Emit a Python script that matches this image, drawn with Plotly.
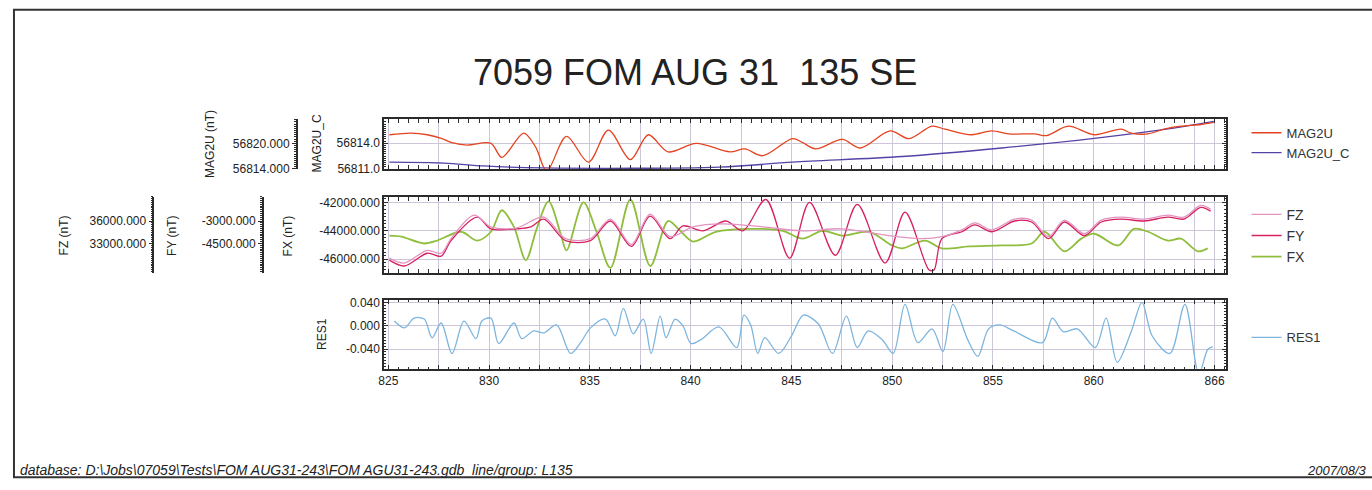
import plotly.graph_objects as go

W, H = 1372, 490

# ---------------- DATA ----------------
# Panel 1 : MAG2U (red) and MAG2U_C (blue)
mag2u_x = [825.05, 826.14, 826.93, 827.67, 828.11, 828.90, 830.09, 830.63, 831.72, 832.31,
           832.86, 833.84, 834.93, 835.92, 837.01, 837.90, 838.88, 840.27, 841.95, 842.69,
           843.58, 845.06, 845.55, 846.20, 847.53, 848.42, 849.90, 850.84, 851.98, 852.62,
           853.95, 854.94, 855.78, 857.07, 857.66, 858.74, 860.03, 861.36, 861.86, 862.70,
           863.49, 864.33, 865.32, 865.96]
mag2u_y = [56822.0, 56822.4, 56822.0, 56821.1, 56820.2, 56819.6, 56820.0, 56816.7, 56822.4, 56819.1,
           56813.5, 56821.6, 56815.6, 56823.1, 56816.2, 56822.0, 56818.0, 56820.0, 56818.0, 56818.7,
           56817.1, 56821.1, 56820.2, 56818.7, 56820.9, 56818.9, 56822.9, 56821.1, 56824.0, 56823.3,
           56822.0, 56822.9, 56822.2, 56822.2, 56821.8, 56824.0, 56822.0, 56823.3, 56822.4, 56822.2,
           56823.3, 56824.0, 56824.4, 56824.9]

mag2uc_x = [825.05, 827.77, 829.74, 832.70, 841.45, 845.06, 850.49, 855.43, 860.03, 863.69, 865.96]
mag2uc_y = [56811.78, 56811.67, 56811.33, 56811.10, 56811.20, 56811.78, 56812.44, 56813.44,
            56814.56, 56815.67, 56816.56]

# Panel 2 : FZ, FY, FX
fz_x = [825.05, 825.79, 826.93, 827.62, 828.11, 829.25, 830.09, 831.37, 832.71, 833.79,
        835.03, 836.02, 837.06, 837.99, 838.98, 840.12, 841.60, 843.58, 845.55, 847.53,
        849.50, 851.48, 852.47, 853.46, 854.10, 854.94, 856.08, 856.92, 857.76, 858.55,
        859.54, 860.38, 861.36, 862.50, 863.69, 864.48, 865.32, 865.81]
fz_y = [31043, 30391, 32087, 31696, 33652, 36783, 35217, 35087, 36522, 33652,
        33652, 36261, 32870, 36913, 33913, 35217, 35609, 35217, 34696, 34957,
        34174, 33652, 33913, 34826, 35739, 34826, 36261, 36130, 33913, 36130,
        34304, 36130, 36522, 36261, 36783, 36522, 38087, 37565]

fy_x = [825.05, 825.79, 826.93, 827.62, 828.11, 829.40, 830.09, 831.37, 832.07, 832.71,
        833.79, 835.03, 836.02, 837.06, 837.99, 838.98, 839.62, 840.61, 841.75, 842.59,
        843.73, 844.91, 845.90, 847.18, 848.27, 849.65, 850.64, 851.83, 852.08, 852.47,
        853.46, 854.10, 854.94, 856.08, 856.92, 857.76, 858.55, 859.54, 860.38, 861.36,
        862.50, 863.69, 864.48, 865.32, 865.81]
fy_y = [-5609, -6000, -5152, -5348, -4304, -2739, -3522, -3522, -3391, -2870,
        -4304, -4304, -3000, -4696, -2674, -4174, -3326, -3652, -3000, -3652,
        -1565, -5478, -1761, -5283, -1891, -5804, -2413, -6261, -6261, -4174,
        -3717, -3261, -3717, -3000, -3065, -4174, -3065, -3978, -3065, -2870,
        -3000, -2739, -2870, -2087, -2348]

fx_x = [825.05, 825.64, 826.78, 827.42, 828.61, 829.40, 830.09, 830.63, 831.23, 831.82,
        832.36, 832.95, 833.55, 833.84, 834.68, 835.33, 836.02, 837.01, 838.00, 838.88,
        839.48, 840.12, 841.25, 842.93, 844.57, 845.55, 846.54, 847.53, 848.86, 850.00,
        850.49, 851.63, 852.47, 853.80, 855.43, 856.92, 857.56, 858.55, 859.39, 860.03,
        861.22, 862.00, 862.70, 863.69, 864.33, 865.17, 865.66]
fx_y = [-44345, -44414, -44897, -44690, -44069, -44690, -44069, -42552, -43724, -46069,
        -43862, -41931, -44207, -45379, -42000, -44069, -46621, -41793, -46483, -43310,
        -44000, -44759, -44069, -43862, -44000, -44552, -44000, -44345, -44069, -45034,
        -45241, -44690, -45241, -45103, -45034, -44897, -44069, -45448, -44552, -44207,
        -45034, -43862, -44069, -44690, -44552, -45448, -45241]

# Panel 3 : RES1
res1_x = [825.30, 825.79, 826.28, 826.78, 827.17, 827.62, 828.16, 828.75, 829.35, 829.64,
          830.09, 830.48, 831.23, 831.62, 832.21, 832.71, 833.35, 834.04, 834.54, 835.03,
          835.77, 836.26, 836.66, 837.15, 837.65, 838.04, 838.49, 838.78, 839.23, 839.62,
          840.02, 840.51, 841.40, 842.29, 842.64, 842.98, 843.33, 843.68, 844.37, 845.01,
          845.60, 846.34, 847.04, 847.73, 848.27, 848.81, 849.51, 850.05, 850.64, 851.28,
          851.98, 852.52, 853.01, 853.75, 854.25, 854.79, 855.34, 856.03, 857.46, 857.95,
          858.50, 859.19, 860.08, 860.62, 861.17, 861.86, 862.40, 862.90, 863.78, 864.53,
          865.22, 865.66, 865.91]
res1_y = [0.0085, -0.0034, 0.0136, 0.0119, -0.0204, 0.0051, -0.0477, 0.0085, -0.0221, 0.0085,
          0.0136, -0.0306, 0.0051, -0.0221, -0.0085, -0.0119, 0.0017, -0.0477, -0.0289, -0.0034,
          0.0119, -0.0170, 0.0306, -0.0136, 0.0119, -0.0477, 0.0170, -0.0204, 0.0119, 0.0000,
          -0.0306, -0.0238, -0.0017, -0.0374, 0.0187, 0.0017, -0.0477, -0.0204, -0.0477, -0.0170,
          0.0187, 0.0034, -0.0477, 0.0170, -0.0374, -0.0085, -0.0238, -0.0477, 0.0374, -0.0289,
          -0.0051, -0.0443, 0.0374, -0.0238, -0.0528, -0.0051, 0.0017, -0.0085, -0.0289, 0.0136,
          -0.0102, -0.0051, -0.0374, 0.0136, -0.0630, -0.0102, 0.0409, -0.0170, -0.0477, 0.0374,
          -0.0834, -0.0409, -0.0357]

# Tick labels
x_tickvals = [825, 827.5, 830, 832.5, 835, 837.5, 840, 842.5, 845, 847.5, 850, 852.5, 855,
              857.5, 860, 862.5, 865, 866]
x_ticktext = ["825", "", "830", "", "835", "", "840", "", "845", "", "850", "", "855",
              "", "860", "", "", "866"]
mag2u_ticks = [56814.0, 56820.0]
mag2u_text = ["56814.000", "56820.000"]
mag2uc_ticks = [56811.0, 56814.0]
mag2uc_text = ["56811.0", "56814.0"]
fx_ticks = [-46000, -44000, -42000]
fx_text = ["-46000.000", "-44000.000", "-42000.000"]
fy_ticks = [-4500, -3000]
fy_text = ["-4500.000", "-3000.000"]
fz_ticks = [33000, 36000]
fz_text = ["33000.000", "36000.000"]
res_ticks = [-0.04, 0.0, 0.04]
res_text = ["-0.040", "0.000", "0.040"]

TITLE = "7059 FOM AUG 31\u00a0 135 SE"
FOOTER = r"database: D:\Jobs\07059\Tests\FOM AUG31-243\FOM AGU31-243.gdb  line/group: L135"
DATE = "2007/08/3"

# ---------------- STYLE ----------------
FONT = "Liberation Sans, Arial, sans-serif"
FRAME = "#2b2b2b"
GRID = "#cdc6d8"
TICKFONT = dict(family=FONT, size=12, color="#222")

def fx_(p):
    return p / W

def fy_(p):
    return 1 - p / H

XDOM = [fx_(380), fx_(1225)]
D1 = [fy_(169), fy_(118)]
D2 = [fy_(275), fy_(197)]
D3 = [fy_(373), fy_(303)]
XR = [824.8, 866.55]

fig = go.Figure()

def line(x, y, name, color, xa, ya, leg, width=1.3, dash=None):
    fig.add_trace(go.Scatter(x=x, y=y, name=name, mode="lines", xaxis=xa, yaxis=ya,
                             legend=leg, line=dict(color=color, width=width, dash=dash,
                                                   shape="spline", smoothing=0.9)))

line(mag2u_x, mag2u_y, "MAG2U", "#e5431f", "x", "y2", "legend")
line(mag2uc_x, mag2uc_y, "MAG2U_C", "#5641a6", "x", "y", "legend")
line(fz_x, fz_y, "FZ", "#e293c0", "x2", "y5", "legend2")
line(fy_x, fy_y, "FY", "#d6205f", "x2", "y4", "legend2")
line(fx_x, fx_y, "FX", "#8fbd3c", "x2", "y3", "legend2", width=1.8)
line(res1_x, res1_y, "RES1", "#7db5de", "x3", "y6", "legend3")

def xaxis(anchor, labels):
    return dict(domain=XDOM, range=XR, anchor=anchor, tickmode="array",
                tickvals=x_tickvals, ticktext=x_ticktext, showticklabels=labels,
                ticks="inside", ticklen=4, tickcolor=FRAME, tickfont=TICKFONT,
                showgrid=True, gridcolor=GRID, gridwidth=1, zeroline=False,
                showline=True, linecolor=FRAME, linewidth=2, mirror="allticks",
                minor=dict(tickmode="linear", tick0=825, dtick=0.5, ticks="inside",
                           ticklen=2, tickcolor=FRAME, showgrid=False))

def frame_y(dom, rng, tv, tt, minor_dt, tick0):
    return dict(domain=dom, range=rng, anchor=None, tickmode="array", tickvals=tv,
                ticktext=tt, ticks="inside", ticklen=4, tickcolor=FRAME, tickfont=TICKFONT,
                showgrid=True, gridcolor=GRID, zeroline=False, showline=True,
                linecolor=FRAME, linewidth=2, mirror="allticks",
                minor=dict(tickmode="linear", tick0=tick0, dtick=minor_dt, ticks="inside",
                           ticklen=2, tickcolor=FRAME, showgrid=False))

def free_y(over, pos, rng, tv, tt, minor_dt, tick0):
    return dict(overlaying=over, anchor="free", position=pos, side="left", range=rng,
                tickmode="array", tickvals=tv, ticktext=tt, ticks="outside", ticklen=4,
                tickcolor=FRAME, tickfont=TICKFONT, showgrid=False, zeroline=False,
                showline=True, linecolor=FRAME, linewidth=1.5,
                minor=dict(tickmode="linear", tick0=tick0, dtick=minor_dt, ticks="outside",
                           ticklen=2, tickcolor=FRAME, showgrid=False))

y1 = frame_y(D1, [56810.95, 56816.8], mag2uc_ticks, mag2uc_text, 0.25, 56811)
y1["anchor"] = "x"
y3 = frame_y(D2, [-46966, -41586], fx_ticks, fx_text, 250, -46000)
y3["anchor"] = "x2"
y6 = frame_y(D3, [-0.074, 0.0446], res_ticks, res_text, 0.005, 0)
y6["anchor"] = "x3"

LEGX = fx_(1246)
fig.update_layout(
    width=W, height=H, margin=dict(l=0, r=0, t=0, b=0),
    paper_bgcolor="white", plot_bgcolor="white",
    font=dict(family=FONT, color="#222"),
    xaxis=xaxis("y", False), xaxis2=xaxis("y3", False), xaxis3=xaxis("y6", True),
    yaxis=y1,
    yaxis2=free_y("y", fx_(292), [56813.95, 56825.6], mag2u_ticks, mag2u_text, 0.5, 56814),
    yaxis3=y3,
    yaxis4=free_y("y3", fx_(258), [-6457, -1370], fy_ticks, fy_text, 125, -4500),
    yaxis5=free_y("y3", fx_(148), [29087, 39260], fz_ticks, fz_text, 250, 33000),
    yaxis6=y6,
    legend=dict(x=LEGX, y=fy_(142), xanchor="left", yanchor="middle",
                font=dict(family=FONT, size=13, color="#333"), bgcolor="rgba(0,0,0,0)",
                itemwidth=30, tracegroupgap=0),
    legend2=dict(x=LEGX, y=fy_(237), xanchor="left", yanchor="middle",
                 font=dict(family=FONT, size=14, color="#333"), bgcolor="rgba(0,0,0,0)",
                 itemwidth=30),
    legend3=dict(x=LEGX, y=fy_(341), xanchor="left", yanchor="middle",
                 font=dict(family=FONT, size=13, color="#333"), bgcolor="rgba(0,0,0,0)",
                 itemwidth=30),
    showlegend=True,
)

ann = []
ann.append(dict(text=TITLE, x=fx_(692), y=fy_(70), xref="paper", yref="paper",
                xanchor="center", yanchor="middle", showarrow=False,
                font=dict(family=FONT, size=36, color="#222")))
for txt, px_, py_ in [("MAG2U (nT)", 205, 143), ("MAG2U_C", 312, 143),
                      ("FZ (nT)", 58, 237), ("FY (nT)", 166, 237), ("FX (nT)", 283, 237),
                      ("RES1", 318, 338)]:
    ann.append(dict(text=txt, x=fx_(px_), y=fy_(py_), xref="paper", yref="paper",
                    xanchor="center", yanchor="middle", showarrow=False, textangle=-90,
                    font=dict(family=FONT, size=12, color="#222")))
ann.append(dict(text="<i>" + FOOTER + "</i>", x=fx_(12), y=fy_(477), xref="paper",
                yref="paper", xanchor="left", yanchor="middle", showarrow=False,
                font=dict(family=FONT, size=14, color="#222")))
ann.append(dict(text="<i>" + DATE + "</i>", x=fx_(1369), y=fy_(477), xref="paper",
                yref="paper", xanchor="right", yanchor="middle", showarrow=False,
                font=dict(family=FONT, size=13, color="#222")))
fig.update_layout(annotations=ann)

fig.add_shape(type="rect", xref="paper", yref="paper", x0=fx_(8), x1=fx_(1380),
              y0=fy_(484), y1=fy_(6), line=dict(color="#333", width=2))

fig.write_html("out.html", config={"displayModeBar": False},
               post_script="document.body.style.margin='0';document.body.style.overflow='hidden';")
